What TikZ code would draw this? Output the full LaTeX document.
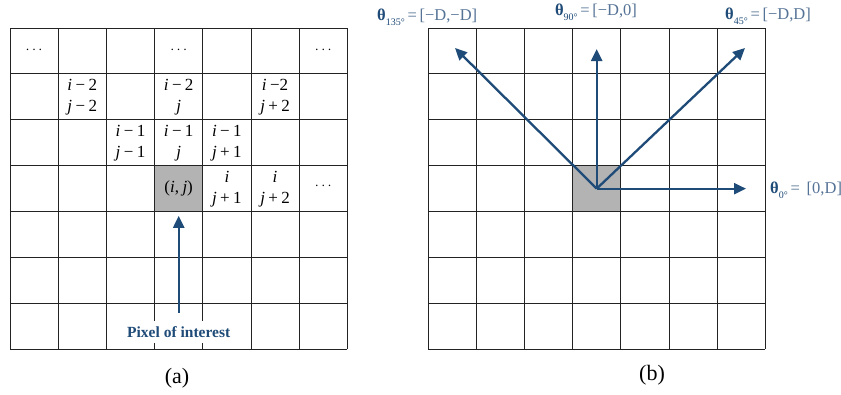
\documentclass[tikz,border=0pt]{standalone}
\usepackage{fontspec}
\setmainfont{Liberation Serif}
\usetikzlibrary{arrows.meta}
\definecolor{arrowblue}{RGB}{31,75,120}
\definecolor{labblue}{RGB}{85,115,150}
\definecolor{cellgray}{RGB}{179,179,179}
\definecolor{gridcol}{RGB}{35,35,35}
\newcommand\vi{\textit{i}}
\newcommand\vj{\textit{j}}
\newcommand\mn{\hspace{0.2em}−\hspace{0.2em}}
\newcommand\pl{\hspace{0.2em}+\hspace{0.2em}}
\newcommand\thlab[2]{{\color{arrowblue}\textbf{θ}\raisebox{-0.3em}{\fontsize{10}{10}\selectfont #1°}}\,{\color{labblue}=\,#2}}
\tikzset{
  gridline/.style={draw=gridcol,line width=1pt},
  celltext/.style={align=center,inner sep=0pt,font=\fontsize{17}{21}\selectfont},
  dotstext/.style={inner sep=0pt,font=\fontsize{14}{14}\selectfont},
  pixcell/.style={fill=cellgray,minimum width=48.2pt,minimum height=45.9pt,inner sep=0pt,font=\fontsize{17}{21}\selectfont},
  arr/.style={draw=arrowblue,line width=2.3pt,-{Triangle[length=12pt,width=11pt]}},
  lab/.style={inner sep=0pt,font=\fontsize{16.5}{18}\selectfont},
  caption/.style={inner sep=0pt,font=\fontsize{22}{24}\selectfont}
}
\begin{document}
\begin{tikzpicture}[x=1pt,y=-1pt]
\useasboundingbox[fill=white] (0,0) rectangle (841,394);

% ---------- (a) ----------
\node[pixcell] (pixA) at (178.7,188.65) {(\vi,\hspace{0.2em}\vj)};
\foreach \k in {0,...,7}{
  \draw[gridline] ({10+\k*48.2},28) -- ({10+\k*48.2},349.3);
  \draw[gridline] (10,{28+\k*45.9}) -- (347.4,{28+\k*45.9});
}
\node[dotstext] (d00) at (34.1,50) {$\cdots$};
\node[dotstext] (d03) at (178.7,50) {$\cdots$};
\node[dotstext] (d06) at (323.3,50) {$\cdots$};
\node[celltext] (c11) at (82.3,97.5) {\vi\mn2\\\vj\mn2};
\node[celltext] (c13) at (178.7,97.5) {\vi\mn2\\\vj};
\node[celltext] (c15) at (275.1,97.5) {\vi\hspace{0.2em}−2\\\vj\pl2};
\node[celltext] (c22) at (130.5,143.4) {\vi\mn1\\\vj\mn1};
\node[celltext] (c23) at (178.7,143.4) {\vi\mn1\\\vj};
\node[celltext] (c24) at (226.9,143.4) {\vi\mn1\\\vj\pl1};
\node[celltext] (c34) at (226.9,189.3) {\vi\\\vj\pl1};
\node[celltext] (c35) at (275.1,189.3) {\vi\\\vj\pl2};
\node[dotstext] (d36) at (323.3,186.5) {$\cdots$};

\node[fill=white,inner xsep=2pt,inner ysep=0pt,minimum height=22pt,
      text=arrowblue,font=\fontsize{15.5}{18}\selectfont\bfseries] (poi) at (178.7,332) {Pixel of interest};
\draw[arr,shorten <=8pt,shorten >=4pt] (poi.north) -- (pixA.south);
\node[caption] (capa) at (177,378) {(a)};

% ---------- (b) ----------
\node[pixcell] (pixB) at (596.7,188.65) {};
\foreach \k in {0,...,7}{
  \draw[gridline] ({428+\k*48.2},28) -- ({428+\k*48.2},349.3);
  \draw[gridline] (428,{28+\k*45.9}) -- (765.4,{28+\k*45.9});
}
\coordinate (t0) at (746,188.65);
\coordinate (t90) at (596.7,49);
\coordinate (t45) at (745,48);
\coordinate (t135) at (455,48);
\draw[arr] (pixB.center) -- (t0);
\draw[arr] (pixB.center) -- (t90);
\draw[arr] (pixB.center) -- (t45);
\draw[arr] (pixB.center) -- (t135);

\node[lab,anchor=west] (l135) at (377,17) {\thlab{135}{[−D,−D]}};
\node[lab] (l90) at (596,12) {\thlab{90}{[−D,0]}};
\node[lab,anchor=west] (l45) at (725,16) {\thlab{45}{[−D,D]}};
\node[lab,anchor=west] (l0) at (770,190) {\thlab{0}{\ [0,D]}};
\node[caption] (capb) at (652,375) {(b)};
\end{tikzpicture}
\end{document}
